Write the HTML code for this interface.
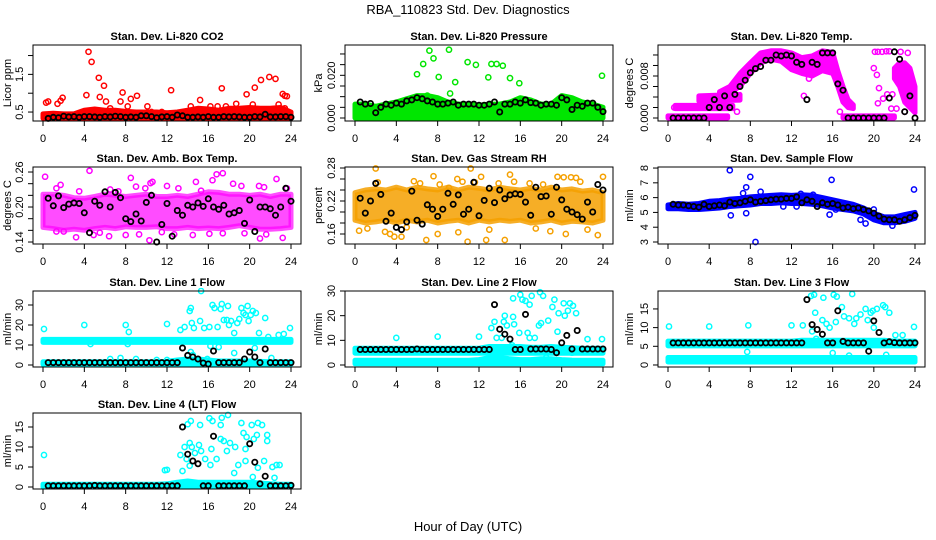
<!DOCTYPE html>
<html><head><meta charset="utf-8"><title>RBA_110823 Std. Dev. Diagnostics</title>
<style>
html,body{margin:0;padding:0;background:#fff;}
svg{display:block;font-family:"Liberation Sans",Arial,sans-serif;}
</style></head>
<body>
<svg id="chart" width="936" height="540" viewBox="0 0 936 540" xmlns="http://www.w3.org/2000/svg">
<rect width="936" height="540" fill="#fff"/>
<text x="468" y="14" text-anchor="middle" font-size="13">RBA_110823  Std. Dev. Diagnostics</text>
<text x="468" y="531" text-anchor="middle" font-size="13">Hour of Day (UTC)</text>
</svg>
<script>
const halfHours = [0.5,1,1.5,2,2.5,3,3.5,4,4.5,5,5.5,6,6.5,7,7.5,8,8.5,9,9.5,10,10.5,11,11.5,12,12.5,13,13.5,14,14.5,15,15.5,16,16.5,17,17.5,18,18.5,19,19.5,20,20.5,21,21.5,22,22.5,23,23.5,24];
const xTicks = [0,4,8,12,16,20,24];
const fullHours = [0,1,2,3,4,5,6,7,8,9,10,11,12,13,14,15,16,17,18,19,20,21,22,23,24];

// ---- CO2 ----
const co2BandLo = [0.33,0.33,0.33,0.33,0.33,0.33,0.33,0.33,0.33,0.33,0.33,0.33,0.33,0.33,0.33,0.33,0.33,0.33,0.33,0.33,0.33,0.33,0.33,0.33,0.33];
const co2BandHi = [0.45,0.47,0.45,0.45,0.55,0.58,0.55,0.55,0.52,0.5,0.5,0.5,0.48,0.5,0.55,0.6,0.58,0.55,0.6,0.6,0.62,0.6,0.6,0.62,0.5];
const co2OutX = [0.3,0.5,1.4,1.7,1.9,4.2,4.4,4.7,5.4,5.9,5.5,6.1,7.5,7.7,8.2,8.5,9.1,10.1,12.4,14.3,15.2,16.2,16.9,17.3,17.7,18.7,19.7,20.5,21.1,21.9,22.5,22.8,23.2,23.4,23.6,23.4,2.8,6.5,10.5,13.5,19,20.3,11.5];
const co2OutY = [0.75,0.78,0.72,0.8,0.88,0.95,2.1,1.83,1.41,1.2,0.9,0.78,0.78,1.02,0.65,0.85,0.93,0.65,1.08,0.65,0.82,0.65,0.65,1.13,0.65,0.72,0.97,1.15,1.35,1.43,1.38,0.7,0.98,0.93,0.92,0.6,0.42,0.6,0.5,0.45,0.55,0.7,0.5];
const co2Black = [0.33,0.36,0.35,0.39,0.37,0.38,0.36,0.38,0.38,0.37,0.36,0.38,0.37,0.39,0.38,0.36,0.37,0.36,0.4,0.4,0.38,0.35,0.37,0.38,0.36,0.42,0.4,0.36,0.36,0.37,0.36,0.38,0.36,0.36,0.38,0.37,0.38,0.37,0.36,0.36,0.38,0.37,0.44,0.37,0.37,0.38,0.38,0.36];

// ---- Pressure ----
const presBandLo = [0,0,0,0,0,0,0,0,0,0,0,0,0,0,0,0,0,0,0,0,0,0,0,0,0];
const presBandHi = [0.0065,0.0065,0.0055,0.0065,0.0075,0.009,0.0105,0.0105,0.0095,0.0075,0.0065,0.0065,0.006,0.0065,0.0065,0.0075,0.0095,0.0085,0.0065,0.0065,0.0105,0.0095,0.0075,0.0065,0.005];
const presOutX = [6.0,6.6,7.2,7.6,8.1,9.1,9.2,9.7,10.9,11.7,12.9,13.2,13.7,14.3,15.0,15.9,23.9,7.0];
const presOutY = [0.0205,0.0253,0.0316,0.0279,0.0192,0.032,0.0115,0.0168,0.0262,0.0249,0.019,0.0253,0.0253,0.0245,0.0187,0.0163,0.0198,0.0105];
const presBlack = [0.0075,0.0065,0.0068,0.0025,0.005,0.0065,0.006,0.007,0.0065,0.008,0.0085,0.0095,0.009,0.008,0.0075,0.0065,0.0065,0.007,0.0075,0.006,0.0065,0.0065,0.0065,0.006,0.006,0.0065,0.0075,0.0028,0.0065,0.0065,0.0075,0.007,0.0085,0.0072,0.007,0.006,0.0065,0.0065,0.006,0.0095,0.0085,0.004,0.006,0.0055,0.007,0.007,0.005,0.003];

// ---- Li-820 Temp ----
const tempZeroX = [0,5.8]; const tempZeroLo = [0,0]; const tempZeroHi = [0.0004,0.0004];
const tempZero2X = [17,22]; const tempZero2Lo = [0,0]; const tempZero2Hi = [0.0004,0.0004];
const tempLvl2X = [0.7,6.3]; const tempLvl2Lo = [0.0018,0.0018]; const tempLvl2Hi = [0.0024,0.0024];
const tempLvl3X = [3,7]; const tempLvl3Lo = [0.0032,0.0034]; const tempLvl3Hi = [0.0042,0.0045];
const tempArcX = [5,6,7,8,9,10,11,12,13,14,15,16,16.5,17,17.5,18];
const tempArcLo = [0.004,0.0048,0.006,0.0085,0.0105,0.0112,0.0108,0.0092,0.0085,0.008,0.009,0.0085,0.006,0.003,0.002,0.0018];
const tempArcHi = [0.005,0.006,0.0085,0.0105,0.0124,0.0128,0.0128,0.0124,0.0115,0.0118,0.0128,0.0125,0.009,0.006,0.0035,0.0025];
const tempLateX = [22,22.5,23,23.5,24]; const tempLateLo = [0.0075,0.006,0.003,0.002,0.001]; const tempLateHi = [0.0095,0.0105,0.0105,0.0095,0.006];
const tempOutX = [0.6,20.1,20.4,20.8,21.2,21.5,20.0,20.3,20.5,20.4,20.9,21.3,21.8,21.7,22.6,23.3,6.7,13.2,13.8,14.4,13.7,16.7,23.0,22.2];
const tempOutY = [0.002,0.0126,0.0126,0.0126,0.0127,0.0127,0.0095,0.0082,0.0057,0.0028,0.0037,0.0045,0.0045,0.0018,0.0126,0.0124,0.0012,0.0042,0.0107,0.0107,0.0075,0.0012,0.0012,0.0018];
const tempBlack = [0,0,0,0,0,0,0,0.002,0.0035,0.002,0.0042,0.002,0.0045,0.006,0.0072,0.0086,0.0094,0.0098,0.011,0.011,0.012,0.0118,0.012,0.0118,0.0106,0.0102,0.0035,0.0106,0.0102,0.0124,0.0124,0.0124,0.0065,0.0053,0,0,0,0,0,0,0,0,0.0038,0.0126,0.0112,0.0012,0.0042,0];

// ---- Amb Box Temp ----
const ambBandLo = [0.165,0.163,0.16,0.162,0.16,0.163,0.165,0.163,0.166,0.165,0.165,0.166,0.163,0.163,0.165,0.163,0.164,0.163,0.165,0.168,0.165,0.162,0.162,0.163,0.165];
const ambBandHi = [0.222,0.222,0.22,0.216,0.215,0.218,0.222,0.22,0.218,0.22,0.222,0.218,0.218,0.22,0.218,0.222,0.226,0.225,0.222,0.222,0.22,0.222,0.218,0.222,0.222];
const ambOutX = [0.2,1.3,1.7,3.5,4.5,6.5,7.3,8.5,9,9.9,10.6,10.4,12,13.1,14.8,15.3,16.4,16.8,17.4,18.4,19.2,20.9,21.4,22.6,23.6,3.2,4.9,6.4,8.0,9.3,10.3,12.7,14.5,16.1,17.4,21.0,21.6,23.2,1.3,2.0,5.5,11.5,19.5];
const ambOutY = [0.252,0.232,0.238,0.227,0.262,0.23,0.227,0.25,0.235,0.232,0.243,0.241,0.236,0.232,0.243,0.228,0.246,0.256,0.258,0.24,0.236,0.236,0.234,0.248,0.232,0.148,0.152,0.15,0.152,0.153,0.143,0.153,0.152,0.154,0.155,0.146,0.153,0.147,0.158,0.158,0.156,0.157,0.155];
const ambBlack = [0.215,0.202,0.219,0.199,0.205,0.207,0.206,0.19,0.156,0.21,0.203,0.226,0.2,0.225,0.216,0.18,0.175,0.188,0.176,0.208,0.22,0.14,0.17,0.206,0.15,0.194,0.186,0.203,0.2,0.207,0.201,0.214,0.2,0.196,0.203,0.188,0.19,0.194,0.172,0.212,0.158,0.2,0.2,0.197,0.186,0.2,0.232,0.21];

// ---- Gas Stream RH ----
const rhBandLo = [0.185,0.18,0.182,0.185,0.18,0.185,0.182,0.185,0.18,0.183,0.185,0.18,0.185,0.182,0.185,0.183,0.185,0.18,0.182,0.185,0.18,0.183,0.182,0.18,0.185];
const rhBandHi = [0.235,0.24,0.242,0.24,0.245,0.24,0.245,0.242,0.24,0.245,0.24,0.245,0.243,0.24,0.245,0.242,0.24,0.243,0.24,0.245,0.24,0.242,0.238,0.24,0.235];
const rhOutX = [0.4,2.0,2.2,2.9,3.4,3.8,5.7,6.3,6.9,7.6,8.2,9.1,9.9,10.4,10.9,11.2,11.6,12.2,12.7,13.9,14.5,15.0,15.4,16.9,18.2,18.9,19.6,20.2,20.4,20.9,21.4,22.5,23.5,24,4.5,8.0,17.5,10.0,1.2,5.0,13.0,21.8];
const rhOutY = [0.166,0.279,0.254,0.164,0.16,0.155,0.256,0.252,0.149,0.265,0.25,0.244,0.26,0.255,0.146,0.279,0.254,0.264,0.149,0.252,0.149,0.268,0.255,0.252,0.25,0.165,0.264,0.263,0.16,0.263,0.262,0.168,0.158,0.264,0.155,0.16,0.17,0.163,0.17,0.172,0.168,0.255];
const rhBlack = [0.225,0.198,0.22,0.252,0.232,0.183,0.198,0.172,0.168,0.182,0.238,0.185,0.178,0.213,0.205,0.192,0.205,0.234,0.214,0.231,0.196,0.205,0.254,0.193,0.221,0.243,0.217,0.24,0.224,0.231,0.233,0.232,0.218,0.194,0.245,0.228,0.229,0.196,0.245,0.222,0.205,0.2,0.195,0.187,0.218,0.2,0.25,0.24];

// ---- Sample Flow ----
const sfBandLo = [5.25,5.25,5.2,5.2,5.25,5.3,5.4,5.45,5.5,5.6,5.6,5.65,5.6,5.6,5.55,5.45,5.3,5.2,5.1,4.9,4.5,4.3,4.3,4.4,4.6];
const sfBandHi = [5.5,5.6,5.55,5.6,5.75,5.8,5.9,5.95,6.05,6.1,6.15,6.2,6.15,6.2,6.15,6.0,5.85,5.7,5.55,5.3,4.95,4.7,4.7,4.85,5.0];
const sfOutX = [6.0,6.1,7.3,7.6,7.6,8.0,8.5,9.0,11.2,12.5,15.7,15.9,19.2,21.8,23.9,20.0,18.7,16.3,12.9,14.1];
const sfOutY = [7.85,4.8,6.3,6.7,4.95,7.4,3.0,6.4,5.4,5.4,4.85,7.2,4.25,4.1,6.55,5.2,4.5,5.2,6.25,6.2];
const sfBlack = [5.55,5.5,5.5,5.45,5.4,5.35,5.55,5.4,5.45,5.5,5.45,5.7,5.6,5.65,5.75,5.85,5.7,5.75,5.8,5.85,5.9,5.9,5.95,5.95,6.05,5.65,5.85,5.75,5.4,5.65,5.55,5.6,5.5,5.3,5.35,5.25,5.3,5.2,5.1,4.95,4.75,4.55,4.5,4.5,4.4,4.5,4.65,4.8];

// ---- Line 1 ----
const l1BandLo = [11.3,11.3,11.3,11.3,11.3,11.3,11.3,11.3,11.3,11.3,11.3,11.3,11.3,11.3,11.3,11.3,11.3,11.3,11.3,11.3,11.3,11.3,11.3,11.3,11.3];
const l1BandHi = [12.8,12.8,12.8,12.8,12.8,12.8,12.8,12.8,12.8,12.8,12.8,12.8,12.8,12.8,12.8,12.8,12.8,12.8,12.8,12.8,12.8,12.8,12.8,12.8,12.8];
const l1Band2Lo = [0.3,0.3,0.3,0.3,0.3,0.3,0.3,0.3,0.3,0.3,0.3,0.3,0.3,0.3,0.3,0.3,0.3,0.3,0.3,0.3,0.3,0.3,0.3,0.3,0.3];
const l1Band2Hi = [1.6,1.6,1.6,1.6,1.6,1.6,1.6,1.6,1.6,1.6,1.6,1.6,1.8,2.5,3,3,2.5,2,2,2,2,1.8,1.6,1.6,1.6];
const l1OutX = [0.1,4,4.6,8,8.3,8.2,12,13.3,13.7,14.2,14.3,14.4,14.6,14.3,15.2,15.3,15.6,16.1,16.4,16.6,16.9,17.2,17.3,17.5,17.8,17.9,18.0,18.2,18.5,18.8,19,19.2,19.4,19.6,19.8,19.9,20.1,20.3,20.6,20.9,21.5,21.8,22.8,23.3,23.9,16.2,17.0,15.9,14.5,18.5,20.5,22.1,6.5,7.5,9,11,12];
const l1OutY = [18,20,10.5,20,16.5,10.5,20.5,17.5,19,27,28.5,21,18.5,6.5,22,37,18.5,19,30,28.5,19,28,30.5,22.5,22.5,29.5,20,22,16,21,23,28.5,26,25,29.5,22,25,27,26,16,23.5,14,15,15.5,18.5,9.5,9,3,5,6,8.5,3.5,3,3.5,3,2.5,2.5];
const l1Black = [1.2,1.2,1.2,1.2,1.2,1.2,1.2,1.2,1.2,1.2,1.2,1.2,1.2,1.2,1.2,1.2,1.2,1.2,1.2,1.2,1.2,1.2,1.2,1.2,1.2,1.2,8.5,4.8,4,3,1,0.5,7,1.2,1.2,1.2,1.2,1.2,3,6.5,4,1.2,8,1.2,1.2,1.2,1.2,1.2];

// ---- Line 2 ----
const l2BandLo = [4.8,4.8,4.8,4.8,4.8,4.8,4.8,4.8,4.8,4.8,4.8,4.8,4.8,4.8,4.8,4.8,4.8,4.8,4.8,4.8,4.8,4.8,4.8,4.8,4.8];
const l2BandHi = [6.8,6.8,6.8,6.8,6.8,6.8,6.8,6.8,6.8,6.8,6.8,6.8,6.8,7.5,7.5,7.5,7.5,7.2,7.2,7.5,7.2,7,6.8,6.8,6.8];
const l2Band2Lo = [0.5,0.5,0.5,0.5,0.5,0.5,0.5,0.5,0.5,0.5,0.5,0.5,0.5,0.5,0.5,0.5,0.5,0.5,0.5,0.5,0.5,0.5,0.5,0.5,0.5];
const l2Band2Hi = [1.9,1.9,1.9,1.9,1.9,1.9,1.9,1.9,1.9,1.9,1.9,1.9,2.2,3,3,2.5,2.2,2.2,2.5,2.5,2.2,2,1.9,1.9,1.9];
const l2OutX = [4,8,12,13.2,13.5,13.7,14.2,14.4,14.5,14.7,15.3,15.3,15.4,15.9,16.0,16.2,16.5,16.7,16.9,16.9,17.1,17.4,17.9,18.2,17.8,18,18.7,19.1,19.3,19.6,19.7,20.2,20.3,20.6,20.8,21.1,21.4,22.5,23.9,15.2,18.5,21];
const l2OutY = [11,11.5,11.5,15,17.5,11,11,17.5,20,16,19.5,27,16.5,13,28.5,26.5,26,13,11,24.5,28,11,29.5,28,16,17,18,23.5,26.5,13.5,21,25,20,22,25,24,21,10.5,10.5,8,3,5];
const l2Black = [6.3,6.3,6.3,6.3,6.3,6.3,6.3,6.3,6.3,6.3,6.3,6.5,6.3,6.3,6.3,6.3,6.3,6.3,6.3,6.3,6.3,6.3,6.3,6.3,6.3,6.3,24.5,14.5,12.5,10.5,6.3,6.3,20.5,6.5,6.5,6.5,6.5,6.3,5,9,12,6.5,14,6.5,6.5,6.5,6.5,6.5];

// ---- Line 3 ----
const l3BandLo = [5.1,5.1,5.1,5.1,5.1,5.1,5.1,5.1,5.1,5.1,5.1,5.1,5.1,5.1,5.1,5.1,5.1,5.1,5.1,5.1,5.1,5.1,5.1,5.1,5.1];
const l3BandHi = [6.4,6.4,6.4,6.4,6.4,6.4,6.4,6.4,6.4,6.4,6.4,6.4,6.4,6.6,6.6,6.6,6.6,6.6,6.6,6.6,6.6,6.6,6.4,6.4,6.4];
const l3Band2Lo = [0.8,0.8,0.8,0.8,0.8,0.8,0.8,0.8,0.8,0.8,0.8,0.8,0.8,0.8,0.8,0.8,0.8,0.8,0.8,0.8,0.8,0.8,0.8,0.8,0.8];
const l3Band2Hi = [2,2,2,2,2,2,2,2,2,2,2,2,2,2,2,2,2,2,2,2,2,2,2,2,2];
const l3OutX = [0.1,4,7.8,12,13.1,13.9,14.2,14.3,14.0,14.4,15.1,15.0,15.4,15.7,16.1,16.4,16.3,16.9,17.1,17.6,17.9,18.1,18.3,18.7,19.2,19.4,19.7,19.9,20.0,20.3,20.9,21.1,21.5,22.1,22.8,23.9,16.0,17.6,21.2,7.7];
const l3OutY = [10.3,10.3,10.6,10.6,10.6,18.5,18.8,14,9,7,18,12,11,10,18.8,18.3,11.5,15.5,13,12.5,19,11,12.5,13.5,15,12,14,14.5,10,15,16,15.5,14,8,8,10.2,3.2,2.5,2.7,3.5];
const l3Black = [5.9,5.9,5.9,5.9,5.9,5.9,5.9,5.9,5.9,5.9,5.9,5.9,5.9,5.9,5.9,5.9,5.9,5.9,5.9,5.9,5.9,5.9,5.9,5.9,5.9,5.9,17.5,10.8,9.5,8.2,5.9,5.9,14.5,6.3,5.9,5.9,5.9,5.9,3.7,11.8,8.7,5.9,6.2,6,5.9,5.9,5.9,5.9];

// ---- Line 4 ----
const l4BandLo = [0,0,0,0,0,0,0,0,0,0,0,0,0,0,0,0,0,0,0,0,0,0,0,0,0];
const l4BandHi = [0.7,0.7,0.7,0.7,0.7,0.7,0.7,0.7,0.7,0.7,0.7,0.7,0.8,1.2,1.5,1.2,1.2,1.2,1.2,1.2,1.2,1,0.8,0.7,0.7];
const l4OutX = [0.1,12,11.8,13.5,13.3,13.7,13.9,14.0,14.3,14.2,14.4,14.2,14.7,15.2,15.1,15.3,15.7,16.1,16.4,16.3,16.2,16.8,17.2,17.3,17.2,17.5,17.9,17.8,18.1,18.5,18.6,18.9,19.2,19.4,19.6,19.7,19.6,20.2,20.4,20.3,20.8,20.7,20.8,21.2,21.4,21.7,21.7,22.2,22.6,22.9,22.4];
const l4OutY = [8,4.3,4.2,4,8,10,7,15.7,16.5,11,10,5.3,8.5,15.5,10.5,9,7,17.2,16.5,9.5,5.5,7,15.5,17.3,12,11.5,18,9,11,3.5,10,5.5,16,13.5,9.5,12.5,6.5,15.5,12,2.5,16,13,4.8,15.5,6.5,13,11.5,5,5.5,5.5,2.3];
const l4Black = [0.3,0.3,0.3,0.3,0.3,0.3,0.3,0.3,0.3,0.4,0.3,0.3,0.3,0.3,0.3,0.3,0.3,0.3,0.3,0.3,0.3,0.3,0.3,0.3,0.3,0.3,15,8.2,6.5,5.8,0.3,0.3,12.7,0.3,0.3,0.3,0.3,0.3,0.3,10.8,6.2,0.8,2.7,0.3,0.3,0.3,0.3,0.4];

const NS = 'http://www.w3.org/2000/svg';
const svg = document.getElementById('chart');
function mk(tag, attrs, parent){
  const e = document.createElementNS(NS, tag);
  for (const k in attrs) e.setAttribute(k, attrs[k]);
  (parent||svg).appendChild(e);
  return e;
}

const COL = [{l:33,r:301,x0:43,x24:291,ylab:11},{l:345,r:613,x0:355,x24:603,ylab:322},{l:658,r:925,x0:668,x24:915,ylab:633}];
const ROW = [{t:45,b:121,title:36},{t:167,b:244,title:158},{t:291,b:367,title:282},{t:413,b:489,title:404}];

const panels = [
 {id:'co2',c:0,r:0,title:'Stan. Dev. Li-820 CO2',ylab:'Licor ppm',color:'#ff0000',ymin:0.262,ymax:2.28,ticks:[0.5,1,1.5,2],labels:['0.5','','1.5',''],
  bands:[[fullHours,co2BandLo,co2BandHi]],outX:co2OutX,outY:co2OutY,black:co2Black},
 {id:'pressure',c:1,r:0,title:'Stan. Dev. Li-820 Pressure',ylab:'kPa',color:'#00e600',ymin:-0.0014,ymax:0.0342,ticks:[0,0.005,0.01,0.015,0.02,0.025,0.03],labels:['0.000','','','','0.020','',''],
  bands:[[fullHours,presBandLo,presBandHi]],outX:presOutX,outY:presOutY,black:presBlack},
 {id:'li820-temp',c:2,r:0,title:'Stan. Dev. Li-820 Temp.',ylab:'degrees C',color:'#ff00ff',ymin:-0.00057,ymax:0.0139,ticks:[0,0.002,0.004,0.006,0.008,0.01,0.012],labels:['0.000','','','','0.008','',''],
  bands:[[tempZeroX,tempZeroLo,tempZeroHi],[tempZero2X,tempZero2Lo,tempZero2Hi],[tempLvl2X,tempLvl2Lo,tempLvl2Hi],[tempLvl3X,tempLvl3Lo,tempLvl3Hi],[tempArcX,tempArcLo,tempArcHi],[tempLateX,tempLateLo,tempLateHi]],outX:tempOutX,outY:tempOutY,black:tempBlack},
 {id:'amb-box-temp',c:0,r:1,title:'Stan. Dev. Amb. Box Temp.',ylab:'degrees C',color:'#ff00ff',ymin:0.1366,ymax:0.2686,ticks:[0.14,0.16,0.18,0.2,0.22,0.24,0.26],labels:['0.14','','','0.20','','','0.26'],
  bands:[[fullHours,ambBandLo,ambBandHi]],outX:ambOutX,outY:ambOutY,black:ambBlack,bandOpacity:0.7},
 {id:'gas-stream-rh',c:1,r:1,title:'Stan. Dev. Gas Stream RH',ylab:'percent',color:'#f5a000',ymin:0.1418,ymax:0.2818,ticks:[0.16,0.18,0.2,0.22,0.24,0.26,0.28],labels:['0.16','','','0.22','','','0.28'],
  bands:[[fullHours,rhBandLo,rhBandHi]],outX:rhOutX,outY:rhOutY,black:rhBlack,bandOpacity:0.85},
 {id:'sample-flow',c:2,r:1,title:'Stan. Dev. Sample Flow',ylab:'ml/min',color:'#0000ff',ymin:2.865,ymax:8.07,ticks:[3,4,5,6,7,8],labels:['3','4','5','6','7','8'],
  bands:[[fullHours,sfBandLo,sfBandHi]],outX:sfOutX,outY:sfOutY,black:sfBlack},
 {id:'line1-flow',c:0,r:2,title:'Stan. Dev. Line 1 Flow',ylab:'ml/min',color:'#00ffff',ymin:-1,ymax:37,ticks:[0,10,20,30],labels:['0','10','20','30'],
  bands:[[fullHours,l1BandLo,l1BandHi],[fullHours,l1Band2Lo,l1Band2Hi]],outX:l1OutX,outY:l1OutY,black:l1Black},
 {id:'line2-flow',c:1,r:2,title:'Stan. Dev. Line 2 Flow',ylab:'ml/min',color:'#00ffff',ymin:-0.81,ymax:30,ticks:[0,10,20,30],labels:['0','10','20','30'],
  bands:[[fullHours,l2BandLo,l2BandHi],[fullHours,l2Band2Lo,l2Band2Hi]],outX:l2OutX,outY:l2OutY,black:l2Black},
 {id:'line3-flow',c:2,r:2,title:'Stan. Dev. Line 3 Flow',ylab:'ml/min',color:'#00ffff',ymin:-0.54,ymax:19.8,ticks:[0,5,10,15],labels:['0','5','10','15'],
  bands:[[fullHours,l3BandLo,l3BandHi],[fullHours,l3Band2Lo,l3Band2Hi]],outX:l3OutX,outY:l3OutY,black:l3Black},
 {id:'line4-flow',c:0,r:3,title:'Stan. Dev. Line 4 (LT) Flow',ylab:'ml/min',color:'#00ffff',ymin:-0.5,ymax:18.5,ticks:[0,5,10,15],labels:['0','5','10','15'],
  bands:[[fullHours,l4BandLo,l4BandHi]],outX:l4OutX,outY:l4OutY,black:l4Black}
];

panels.forEach(p => {
  const col = COL[p.c], row = ROW[p.r];
  const g = mk('g', {});
  
  
  const xs = h => col.x0 + (col.x24 - col.x0) * h / 24;
  const ys = v => row.b - (v - p.ymin) / (p.ymax - p.ymin) * (row.b - row.t);
  const clipId = 'clip-' + p.id;
  const cp = mk('clipPath', {id: clipId}, g);
  mk('rect', {x: col.l, y: row.t - 3, width: col.r - col.l, height: row.b - row.t + 6}, cp);
  const marks = mk('g', {'clip-path': 'url(#' + clipId + ')'}, g);
  // dense bands
  p.bands.forEach((b, bi) => {
    const hx = b[0], lo = b[1], hi = b[2];
    let d = '';
    for (let i = 0; i < hx.length; i++) d += (i ? 'L' : 'M') + xs(hx[i]).toFixed(1) + ' ' + ys(hi[i]).toFixed(1);
    for (let i = hx.length - 1; i >= 0; i--) d += 'L' + xs(hx[i]).toFixed(1) + ' ' + ys(lo[i]).toFixed(1);
    d += 'Z';
    const band = mk('path', {d: d, fill: p.color, stroke: p.color, 'stroke-width': 5, 'stroke-linejoin': 'round', 'fill-opacity': p.bandOpacity || 1, 'stroke-opacity': p.bandOpacity || 1}, marks);
    
    
  });
  // scattered colored points
  p.outX.forEach((hx, i) => {
    const c = mk('circle', {cx: xs(hx).toFixed(1), cy: ys(p.outY[i]).toFixed(1), r: 2.6, fill: 'none', stroke: p.color, 'stroke-width': 1.5}, marks);
    
    
  });
  // black (hourly mean) points
  p.black.forEach((v, i) => {
    const c = mk('circle', {cx: xs(halfHours[i]).toFixed(1), cy: ys(v).toFixed(1), r: 2.6, fill: 'none', stroke: '#000', 'stroke-width': 1.8}, marks);
    
    
  });
  // box
  const box = mk('rect', {x: col.l, y: row.t, width: col.r - col.l, height: row.b - row.t, fill: 'none', stroke: '#000', 'stroke-width': 1}, g);
  
  
  // x axis
  const xa = mk('g', {}, g);
  
  
  mk('line', {x1: xs(0), x2: xs(24), y1: row.b, y2: row.b, stroke: '#000'}, xa);
  xTicks.forEach(t => {
    mk('line', {x1: xs(t), x2: xs(t), y1: row.b, y2: row.b + 5, stroke: '#000'}, xa);
    const tl = mk('text', {x: xs(t), y: row.b + 21, 'text-anchor': 'middle', 'font-size': 11}, xa);
    tl.textContent = t;
    
    
  });
  // y axis
  const ya = mk('g', {}, g);
  
  
  mk('line', {x1: col.l, x2: col.l, y1: ys(p.ticks[0]), y2: ys(p.ticks[p.ticks.length - 1]), stroke: '#000'}, ya);
  p.ticks.forEach((t, i) => {
    mk('line', {x1: col.l - 5, x2: col.l, y1: ys(t), y2: ys(t), stroke: '#000'}, ya);
    if (p.labels[i]) {
      const tx = col.l - 10, ty = ys(t);
      const tl = mk('text', {x: tx, y: ty, 'text-anchor': 'middle', 'font-size': 11, transform: 'rotate(-90 ' + tx + ' ' + ty + ')'}, ya);
      tl.textContent = p.labels[i];
      
      
    }
  });
  const yt = (row.t + row.b) / 2;
  const ylab = mk('text', {x: col.ylab, y: yt, 'text-anchor': 'middle', 'font-size': 11, transform: 'rotate(-90 ' + col.ylab + ' ' + yt + ')'}, g);
  ylab.textContent = p.ylab;
  
  
  const tt = mk('text', {x: (col.l + col.r) / 2, y: row.title + 4, 'text-anchor': 'middle', 'font-size': 11, 'font-weight': 'bold'}, g);
  tt.textContent = p.title;
  
  
});
</script>
</body></html>
